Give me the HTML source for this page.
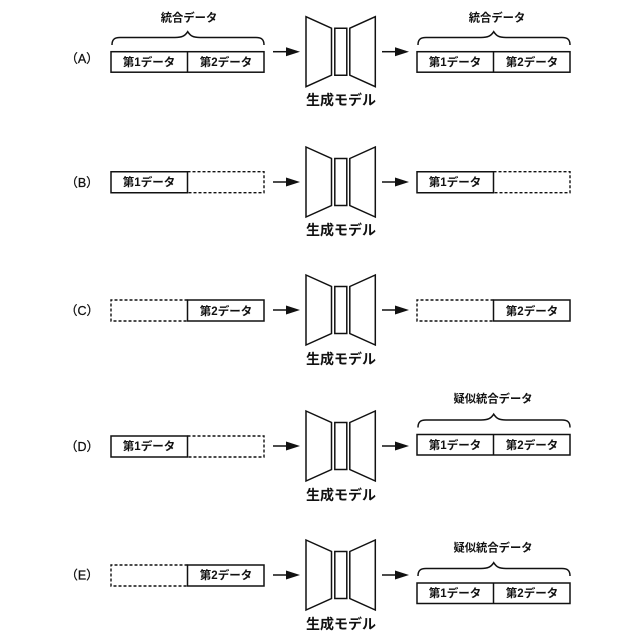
<!DOCTYPE html>
<html><head><meta charset="utf-8"><style>
html,body{margin:0;padding:0;background:#fff}
svg{display:block}
text{font-family:"Liberation Sans","Noto Sans CJK JP",sans-serif;fill:#111;text-anchor:middle}
.d{font-size:11.5px;font-weight:700}
.t{font-size:11.300px;font-weight:700}
.m{font-size:14px;font-weight:700}
.l{font-size:12.500px;stroke:#111;stroke-width:.25}
.s{fill:none;stroke:#111;stroke-width:1.500}
.da{fill:none;stroke:#111;stroke-width:1.400;stroke-dasharray:3 2}
.sh{fill:#111;stroke:none}
</style></head><body>
<svg width="640" height="640" viewBox="0 0 640 640" xmlns="http://www.w3.org/2000/svg">
<defs>
<g id="model" class="s">
<path d="M306-35 331.500-23.500V23.500L306 35Z"/><path d="M334.800-23.500H346.800V23.500H334.800Z"/><path d="M349.800-23.500 375.300-35V35L349.800 23.500Z"/>
</g>
<g id="arr"><path d="M0 0H16" class="s"/><path d="M13-4.500 27 0 13 4.500Z" class="sh"/></g>
<g id="brace1"><path class="s" d="M112 45C112 40 114 37.500 120 37.500H175C182 37.500 185 36 187.700 31.700C190.500 36 193 37.500 200 37.500H256C262 37.500 264 40 264 45"/></g>
<g id="brace2"><path class="s" d="M418 45C418 40 420 37.500 426 37.500H481C488 37.500 491 36 493.700 31.700C496.500 36 499 37.500 506 37.500H562C568 37.500 570 40 570 45"/></g>
</defs>

<!-- A -->
<text class="l" x="82" y="63">（A）</text>
<text class="t" x="189" y="21.500">統合データ</text>
<use href="#brace1"/>
<rect class="s" x="111" y="51.700" width="153" height="20.500"/><path class="s" d="M187.500 51.700V72.200"/>
<text class="d" x="149" y="66">第1データ</text>
<text class="d" x="226" y="66">第2データ</text>
<use href="#arr" x="273" y="51.700"/>
<use href="#model" y="51.700"/>
<text class="m" x="341" y="105">生成モデル</text>
<use href="#arr" x="382" y="51.700"/>
<text class="t" x="497" y="21.500">統合データ</text>
<use href="#brace2"/>
<rect class="s" x="417" y="51.700" width="153" height="20.500"/><path class="s" d="M493.500 51.700V72.200"/>
<text class="d" x="455" y="66">第1データ</text>
<text class="d" x="532" y="66">第2データ</text>

<!-- B -->
<text class="l" x="82" y="187">（B）</text>
<path class="s" d="M187.500 171.700H111V192.700H187.500Z"/>
<path class="da" d="M187.500 171.700H264V192.700H187.500"/>
<text class="d" x="149" y="186">第1データ</text>
<use href="#arr" x="273" y="182"/>
<use href="#model" y="182"/>
<text class="m" x="341" y="235">生成モデル</text>
<use href="#arr" x="382" y="182"/>
<path class="s" d="M493.500 171.700H417V192.700H493.500Z"/>
<path class="da" d="M493.500 171.700H570V192.700H493.500"/>
<text class="d" x="455" y="186">第1データ</text>

<!-- C -->
<text class="l" x="82" y="315">（C）</text>
<path class="da" d="M187.500 300H111V321H187.500"/>
<path class="s" d="M187.500 300H264V321H187.500Z"/>
<text class="d" x="226" y="315">第2データ</text>
<use href="#arr" x="273" y="310"/>
<use href="#model" y="310"/>
<text class="m" x="341" y="364">生成モデル</text>
<use href="#arr" x="382" y="310"/>
<path class="da" d="M493.500 300H417V321H493.500"/>
<path class="s" d="M493.500 300H570V321H493.500Z"/>
<text class="d" x="532" y="315">第2データ</text>

<!-- D -->
<text class="l" x="82" y="451">（D）</text>
<path class="s" d="M187.500 436H111V457H187.500Z"/>
<path class="da" d="M187.500 436H264V457H187.500"/>
<text class="d" x="149" y="450">第1データ</text>
<use href="#arr" x="273" y="446"/>
<use href="#model" y="446"/>
<text class="m" x="341" y="500">生成モデル</text>
<use href="#arr" x="382" y="446"/>
<text class="t" x="493" y="402.500">疑似統合データ</text>
<use href="#brace2" y="382.500"/>
<rect class="s" x="417" y="434.500" width="153" height="20.500"/><path class="s" d="M493.500 434.500V455"/>
<text class="d" x="455" y="449">第1データ</text>
<text class="d" x="532" y="449">第2データ</text>

<!-- E -->
<text class="l" x="82" y="579.500">（E）</text>
<path class="da" d="M187.500 565H111V586H187.500"/>
<path class="s" d="M187.500 565H264V586H187.500Z"/>
<text class="d" x="226" y="579">第2データ</text>
<use href="#arr" x="273" y="575"/>
<use href="#model" y="575"/>
<text class="m" x="341" y="629">生成モデル</text>
<use href="#arr" x="382" y="575"/>
<text class="t" x="493" y="551.500">疑似統合データ</text>
<use href="#brace2" y="531"/>
<rect class="s" x="417" y="583" width="153" height="20.500"/><path class="s" d="M493.500 583V603.500"/>
<text class="d" x="455" y="597">第1データ</text>
<text class="d" x="532" y="597">第2データ</text>
</svg>
</body></html>
